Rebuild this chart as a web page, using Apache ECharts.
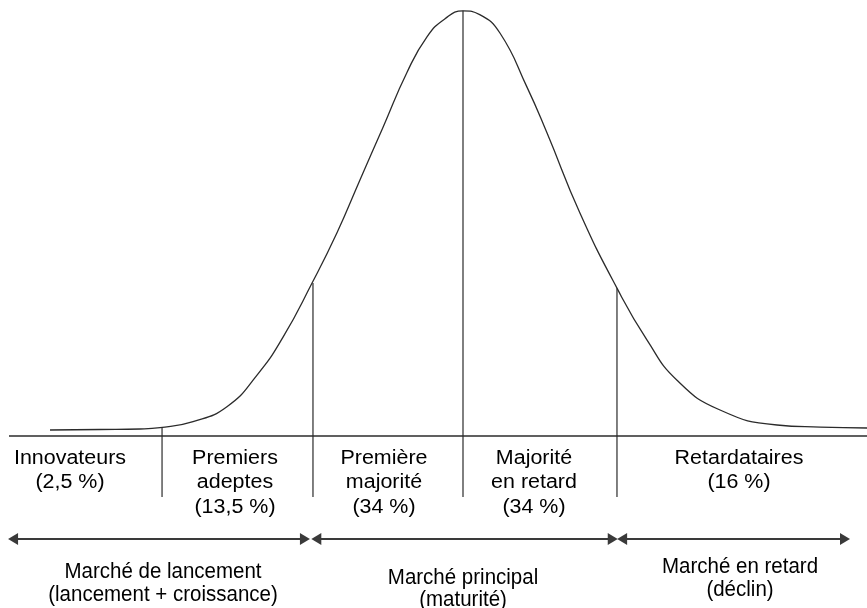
<!DOCTYPE html>
<html><head><meta charset="utf-8">
<script src="https://cdn.jsdelivr.net/npm/echarts@6/dist/echarts.min.js"></script>
<style>html,body{margin:0;padding:0;background:#fff}#c{width:867px;height:608px}</style>
</head><body><div id="c"></div>
<script>
// Position in standard deviations from the mean, height in % of peak
var curveX = [-2.717,-2.388,-2.125,-1.993,-1.776,-1.553,-1.355,-1.184,-0.993,-0.829,-0.678,-0.526,-0.368,-0.237,-0.120,0,0.110,0.243,0.421,0.553,0.770,1.013,1.211,1.408,1.691,2.066,2.350,2.658];
var curveY = [1.41,1.53,1.64,1.95,3.36,6.88,14.3,23.2,35.9,47.7,60.1,72.5,85.4,93.7,97.9,99.8,98.9,94.6,81.9,71.1,52.3,34.7,22.5,13.1,6.10,2.58,2.10,1.88];
var dividerX = [-1.98,-0.987,0,1.013];
var dividerTop = [1.9,35.9,99.8,34.7];
var dividerBottom = -14.3;
var baselineSpan = [-2.987,2.658];
var segmentNames = [["Innovateurs","(2,5 %)"],["Premiers","adeptes","(13,5 %)"],["Première","majorité","(34 %)"],["Majorité","en retard","(34 %)"],["Retardataires","(16 %)"]];
var marketStart = [-2.96,-0.965,1.047];
var marketEnd = [-1.04,0.985,2.513];
var marketLevel = -24.2;
var marketNames = [["Marché de lancement","(lancement + croissance)"],["Marché principal","(maturité)"],["Marché en retard","(déclin)"]];

var ink = '#2b2b2b';
var curve = curveX.map(function(x,i){return [x,curveY[i]];});
var series = [{
  type:'line', data:curve, smooth:0.5, showSymbol:false, silent:true,
  lineStyle:{color:ink,width:1.3}
},{
  type:'line', data:[[baselineSpan[0],0],[baselineSpan[1],0]], showSymbol:false, silent:true,
  lineStyle:{color:ink,width:1.6}
}];
dividerX.forEach(function(x,i){
  series.push({type:'line', data:[[x,dividerBottom],[x,dividerTop[i]]], showSymbol:false, silent:true,
    lineStyle:{color:ink,width:1.2}});
});
series.push({
  type:'line', data:[], silent:true,
  markLine:{silent:true, symbol:['triangle','triangle'], symbolSize:[12,10], label:{show:false},
    lineStyle:{color:'#3a3a3a',width:2,type:'solid'},
    data: marketStart.map(function(s,i){return [{coord:[s,marketLevel]},{coord:[marketEnd[i],marketLevel]}];})
  }
});

var labelCx = [70,235,384,534,739];
var labelY = [459,483,508];
var marketCx = [163,463,740];
var marketY = [[572,595],[578,600],[567,590]];
var graphics = [];
segmentNames.forEach(function(lines,i){
  lines.forEach(function(t,j){
    graphics.push({type:'text', x:labelCx[i], y:labelY[j], scaleX:1.1, silent:true,
      style:{text:t, textAlign:'center', textVerticalAlign:'middle', font:'19.5px "Liberation Sans", Arial, sans-serif', fill:'#000'}});
  });
});
marketNames.forEach(function(lines,i){
  lines.forEach(function(t,j){
    graphics.push({type:'text', x:marketCx[i], y:marketY[i][j], scaleY:1.12, silent:true,
      style:{text:t, textAlign:'center', textVerticalAlign:'middle', font:'20.5px "Liberation Sans", Arial, sans-serif', fill:'#000'}});
  });
});

var chart = echarts.init(document.getElementById('c'));
chart.setOption({
  animation:false,
  grid:{left:0,right:0,top:10,bottom:1.6},
  xAxis:{type:'value',min:-463/152,max:404/152,show:false},
  yAxis:{type:'value',min:-40,max:100,show:false},
  series:series,
  graphic:graphics
});
</script></body></html>
